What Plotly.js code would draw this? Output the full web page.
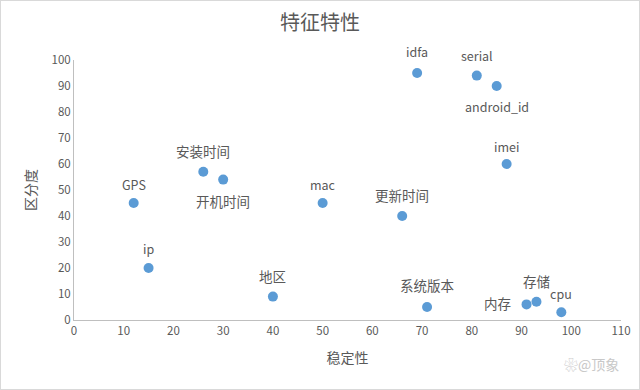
<!DOCTYPE html>
<html><head><meta charset="utf-8">
<script src="https://cdn.plot.ly/plotly-3.0.1.min.js"></script>
<style>body{margin:0;} #wrap{position:relative;width:640px;height:390px;} #frame{position:absolute;left:0;top:0;width:640px;height:390px;box-sizing:border-box;border:1px solid #d9d9d9;pointer-events:none;}</style>
</head><body>
<div id="wrap"><div id="chart" style="width:640px;height:390px;"></div><div id="frame"></div></div>
<script>
const names = ["idfa","serial","android_id","imei","更新时间","mac","安装时间","开机时间","GPS","ip","地区","系统版本","内存","存储","cpu"];
const stability = [69, 81, 85, 87, 66, 50, 26, 30, 12, 15, 40, 71, 91, 93, 98];
const distinction = [95, 94, 90, 60, 40, 45, 57, 54, 45, 20, 9, 5, 6, 7, 3];
const xTicks = [0,10,20,30,40,50,60,70,80,90,100,110];
const yTicks = [0,10,20,30,40,50,60,70,80,90,100];

// label placement (style): pixel shifts from the point
const labelShift = {
  "idfa":[0,22], "serial":[0,20], "android_id":[0,-20], "imei":[0,18],
  "更新时间":[0,21], "mac":[0,19], "安装时间":[0,21], "开机时间":[0,-21],
  "GPS":[0,19], "ip":[0,20], "地区":[0,21], "系统版本":[0,22],
  "内存":[-29,1], "存储":[0,21], "cpu":[0,19]
};

const font = '"Noto Sans CJK SC", "Microsoft YaHei", sans-serif';
const grey = '#595959';
const isCJK = s => /[\u4e00-\u9fff]/.test(s);

const annotations = names.map((n,i)=>({
  x: stability[i], y: distinction[i], xref:'x', yref:'y', text:n, showarrow:false,
  xshift: labelShift[n][0], yshift: labelShift[n][1],
  font:{family:font, size: isCJK(n) ? 13.5 : 12.5, color:grey}
}));
annotations.push({xref:'paper', yref:'paper', x:1.0, y:-0.17, xanchor:'right', yanchor:'middle',
  text:'❀@顶象', showarrow:false, font:{family:font, size:14, color:'#c8c8c8'}});

const trace = {
  x: stability, y: distinction, mode:'markers', type:'scatter',
  marker:{color:'#5B9BD5', size:10}, hoverinfo:'none'
};

const layout = {
  width:640, height:390,
  margin:{l:74, r:19, t:60, b:70},
  paper_bgcolor:'#ffffff', plot_bgcolor:'#ffffff',
  showlegend:false,
  title:{text:'特征特性', x:0.5, xanchor:'center', y:0.94, yanchor:'middle', font:{family:font, size:20, color:grey}},
  xaxis:{range:[0,110], tickvals:xTicks, ticktext:xTicks.map(String), showgrid:false, zeroline:false,
    showline:true, linecolor:'#bfbfbf', linewidth:1, ticks:'', ticklen:0,
    tickfont:{family:font, size:11.5, color:grey},
    title:{text:'稳定性', standoff:16, font:{family:font, size:14, color:grey}}},
  yaxis:{range:[0,100], tickvals:yTicks, ticktext:yTicks.map(String), showgrid:false, zeroline:false,
    showline:true, linecolor:'#bfbfbf', linewidth:1, ticks:'', ticklen:0,
    tickfont:{family:font, size:11.5, color:grey},
    title:{text:'区分度', standoff:11, font:{family:font, size:14, color:grey}}},
  annotations: annotations
};
Plotly.newPlot('chart', [trace], layout, {displayModeBar:false, staticPlot:true});
</script>
</body></html>
